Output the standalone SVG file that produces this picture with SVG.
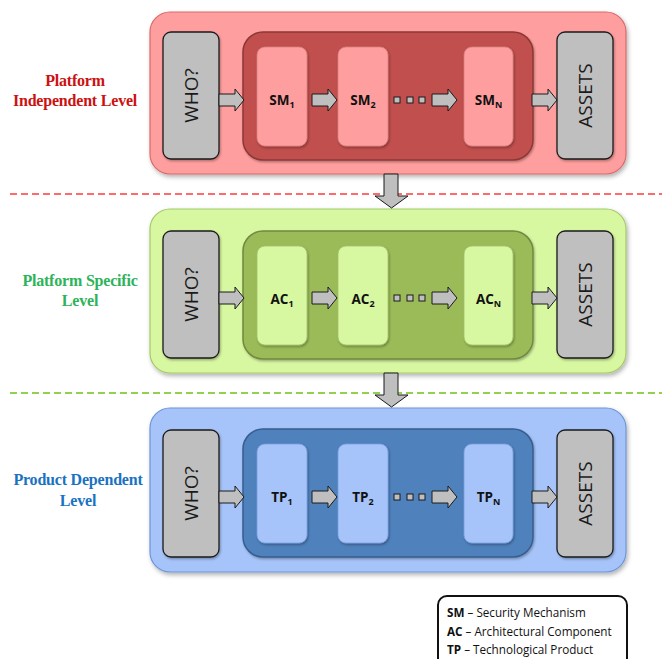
<svg xmlns="http://www.w3.org/2000/svg" width="662" height="659" viewBox="0 0 662 659">
<defs>
<filter id="sh" x="-10%" y="-10%" width="120%" height="130%">
<feDropShadow dx="1.5" dy="2.5" stdDeviation="2" flood-color="#000" flood-opacity="0.3"/>
</filter>
<filter id="sh2" x="-10%" y="-10%" width="130%" height="130%">
<feDropShadow dx="1" dy="1.5" stdDeviation="1.2" flood-color="#000" flood-opacity="0.3"/>
</filter>
<path id="arr" d="M0,-6 H16 V-11 L25,0 L16,11 V6 H0 Z"/>
</defs>
<style>
.gray{fill:#bfbfbf;stroke:#1a1a1a;stroke-width:1.3}
.arrow{fill:#bfbfbf;stroke:#1a1a1a;stroke-width:1}
.dot{fill:#bfbfbf;stroke:#1a1a1a;stroke-width:1}
.vt{font-family:"Open Sans","Noto Sans",sans-serif;font-size:19px;fill:#1a1a1a;text-anchor:middle}
.it{font-family:"Open Sans","Noto Sans",sans-serif;font-weight:bold;font-size:13.5px;fill:#111;text-anchor:middle}
.sub{font-size:9px}
.lv{font-family:"Liberation Serif","DejaVu Serif",serif;font-weight:bold;font-size:16px;text-anchor:middle;letter-spacing:-0.2px}
.lg{font-family:"Open Sans","Noto Sans",sans-serif;font-size:11.7px;fill:#111}
.p1{fill:#ff9e9e;stroke:#d96b6b;stroke-width:1.2}
.i1{fill:#c0504d;stroke:#8c3836;stroke-width:1.5}
.b1{fill:#ff9e9e;stroke:#d98080;stroke-width:0.8}
.p2{fill:#d7f7a1;stroke:#a6c96a;stroke-width:1.2}
.i2{fill:#9bbb59;stroke:#71893f;stroke-width:1.5}
.b2{fill:#d7f7a1;stroke:#a3c26a;stroke-width:0.8}
.p3{fill:#a6c4fa;stroke:#6d95d8;stroke-width:1.2}
.i3{fill:#4f81bd;stroke:#365e8e;stroke-width:1.5}
.b3{fill:#a6c4fa;stroke:#7a9fdc;stroke-width:0.8}
</style>

<!-- level 1 -->
<g id="level1">
<rect class="p1" x="150" y="12" width="476" height="162" rx="20" filter="url(#sh)"/>
<text class="lv" fill="#cc1111" x="75" y="86">Platform</text>
<text class="lv" fill="#cc1111" x="75" y="106">Independent Level</text>
<g id="who1"><rect class="gray" x="163" y="32" width="56" height="127" rx="8" filter="url(#sh2)"/>
<text class="vt" transform="translate(191,95.5) rotate(-90)" y="7">WHO?</text></g>
<g id="inner1"><rect class="i1" x="243" y="32" width="290" height="128" rx="20" filter="url(#sh2)"/></g>
<g id="sm1"><rect class="b1" x="257" y="47" width="50" height="99" rx="8" filter="url(#sh2)"/>
<text class="it" x="282" y="105">SM<tspan class="sub" dy="3">1</tspan></text></g>
<g id="sm2"><rect class="b1" x="338" y="47" width="50" height="99" rx="8" filter="url(#sh2)"/>
<text class="it" x="363" y="105">SM<tspan class="sub" dy="3">2</tspan></text></g>
<g id="smn"><rect class="b1" x="464" y="47" width="49" height="99" rx="8" filter="url(#sh2)"/>
<text class="it" x="488.5" y="105">SM<tspan class="sub" dy="3">N</tspan></text></g>
<g id="assets1"><rect class="gray" x="557" y="32" width="56" height="127" rx="8" filter="url(#sh2)"/>
<text class="vt" transform="translate(585,95.5) rotate(-90)" y="7">ASSETS</text></g>
</g>

<!-- level 2 -->
<g id="level2">
<rect class="p2" x="150" y="209" width="476" height="164" rx="20" filter="url(#sh)"/>
<text class="lv" fill="#2db35a" x="80" y="286">Platform Specific</text>
<text class="lv" fill="#2db35a" x="80" y="306">Level</text>
<g id="who2"><rect class="gray" x="163" y="231" width="56" height="127" rx="8" filter="url(#sh2)"/>
<text class="vt" transform="translate(191,294.5) rotate(-90)" y="7">WHO?</text></g>
<g id="inner2"><rect class="i2" x="243" y="231" width="290" height="128" rx="20" filter="url(#sh2)"/></g>
<g id="ac1"><rect class="b2" x="257" y="246" width="50" height="99" rx="8" filter="url(#sh2)"/>
<text class="it" x="282" y="304">AC<tspan class="sub" dy="3">1</tspan></text></g>
<g id="ac2"><rect class="b2" x="338" y="246" width="50" height="99" rx="8" filter="url(#sh2)"/>
<text class="it" x="363" y="304">AC<tspan class="sub" dy="3">2</tspan></text></g>
<g id="acn"><rect class="b2" x="464" y="246" width="49" height="99" rx="8" filter="url(#sh2)"/>
<text class="it" x="488.5" y="304">AC<tspan class="sub" dy="3">N</tspan></text></g>
<g id="assets2"><rect class="gray" x="557" y="231" width="56" height="127" rx="8" filter="url(#sh2)"/>
<text class="vt" transform="translate(585,294.5) rotate(-90)" y="7">ASSETS</text></g>
</g>

<!-- level 3 -->
<g id="level3">
<rect class="p3" x="150" y="408" width="476" height="164" rx="20" filter="url(#sh)"/>
<text class="lv" fill="#1a72c2" x="78" y="485">Product Dependent</text>
<text class="lv" fill="#1a72c2" x="78" y="506">Level</text>
<g id="who3"><rect class="gray" x="163" y="430" width="56" height="127" rx="8" filter="url(#sh2)"/>
<text class="vt" transform="translate(191,493.5) rotate(-90)" y="7">WHO?</text></g>
<g id="inner3"><rect class="i3" x="243" y="429" width="290" height="128" rx="20" filter="url(#sh2)"/></g>
<g id="tp1"><rect class="b3" x="257" y="444" width="50" height="99" rx="8" filter="url(#sh2)"/>
<text class="it" x="282" y="502">TP<tspan class="sub" dy="3">1</tspan></text></g>
<g id="tp2"><rect class="b3" x="338" y="444" width="50" height="99" rx="8" filter="url(#sh2)"/>
<text class="it" x="363" y="502">TP<tspan class="sub" dy="3">2</tspan></text></g>
<g id="tpn"><rect class="b3" x="464" y="444" width="49" height="99" rx="8" filter="url(#sh2)"/>
<text class="it" x="488.5" y="502">TP<tspan class="sub" dy="3">N</tspan></text></g>
<g id="assets3"><rect class="gray" x="557" y="430" width="56" height="127" rx="8" filter="url(#sh2)"/>
<text class="vt" transform="translate(585,493.5) rotate(-90)" y="7">ASSETS</text></g>
</g>

<!-- separators -->
<line x1="10" y1="194" x2="662" y2="194" stroke="#ff6b6b" stroke-width="1.8" stroke-dasharray="7,4"/>
<line x1="10" y1="393" x2="662" y2="393" stroke="#92d050" stroke-width="1.8" stroke-dasharray="7,4"/>

<!-- connectors -->
<g id="connectors">
<g transform="translate(0,100)">
<use href="#arr" class="arrow" x="219"/><use href="#arr" class="arrow" x="312"/>
<rect class="dot" x="394" y="-3" width="6" height="6"/><rect class="dot" x="407" y="-3" width="6" height="6"/><rect class="dot" x="419" y="-3" width="6" height="6"/>
<use href="#arr" class="arrow" x="432"/><use href="#arr" class="arrow" x="532"/>
</g>
<g transform="translate(0,298)">
<use href="#arr" class="arrow" x="219"/><use href="#arr" class="arrow" x="312"/>
<rect class="dot" x="394" y="-3" width="6" height="6"/><rect class="dot" x="407" y="-3" width="6" height="6"/><rect class="dot" x="419" y="-3" width="6" height="6"/>
<use href="#arr" class="arrow" x="432"/><use href="#arr" class="arrow" x="532"/>
</g>
<g transform="translate(0,497)">
<use href="#arr" class="arrow" x="219"/><use href="#arr" class="arrow" x="312"/>
<rect class="dot" x="394" y="-3" width="6" height="6"/><rect class="dot" x="407" y="-3" width="6" height="6"/><rect class="dot" x="419" y="-3" width="6" height="6"/>
<use href="#arr" class="arrow" x="432"/><use href="#arr" class="arrow" x="532"/>
</g>
<path class="arrow" d="M384,174 H398 V196 H408 L391.5,208 L375,196 H384 Z"/>
<path class="arrow" d="M384,373 H398 V395 H408 L391.5,407 L375,395 H384 Z"/>
</g>

<!-- legend -->
<g id="legend">
<rect x="438" y="596" width="189" height="75" rx="9" fill="#fff" stroke="#111" stroke-width="2"/>
<text class="lg" x="447" y="617"><tspan font-weight="bold">SM</tspan> – Security Mechanism</text>
<text class="lg" x="447" y="636"><tspan font-weight="bold">AC</tspan> – Architectural Component</text>
<text class="lg" x="447" y="654"><tspan font-weight="bold">TP</tspan> – Technological Product</text>
</g>
</svg>
